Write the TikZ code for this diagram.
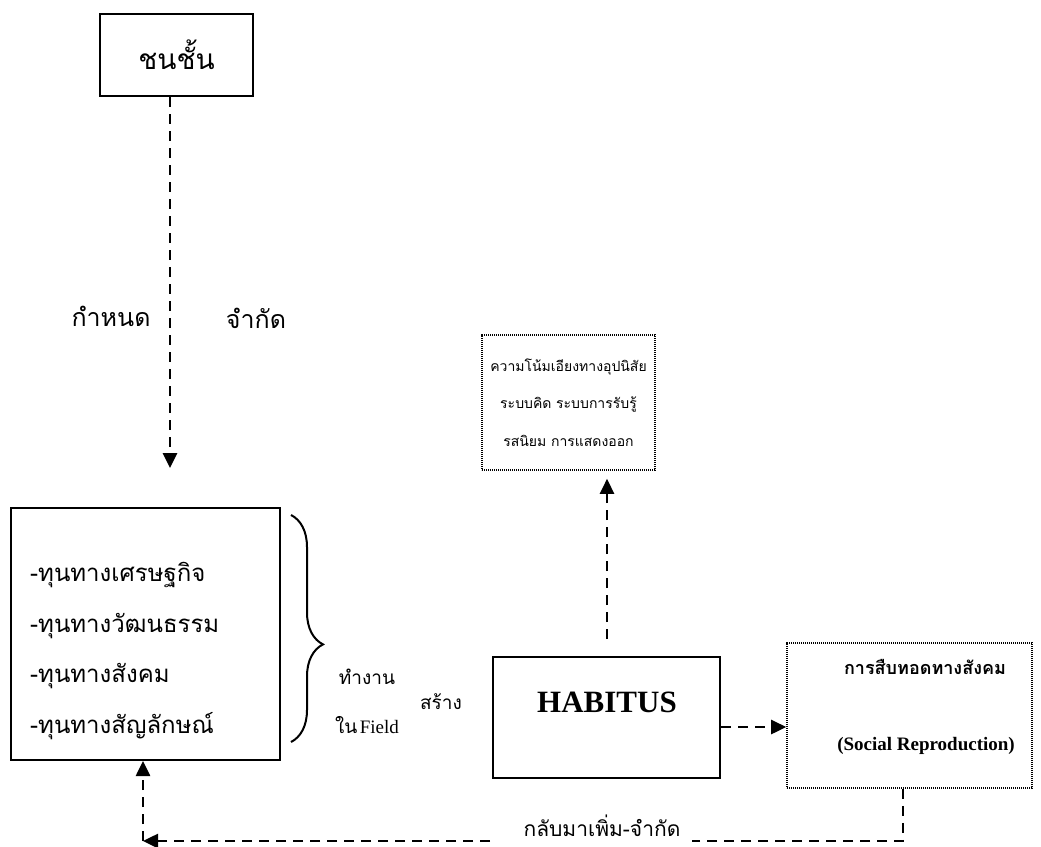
\documentclass[tikz,border=0pt]{standalone}
\usepackage{fontspec}
\setmainfont{Liberation Serif}
\newfontfamily\thai[Script=Thai]{Loma}
\usetikzlibrary{arrows.meta,decorations.pathreplacing}

\begin{document}
\begin{tikzpicture}[x=1pt,y=-1pt,
  solidbox/.style={draw,line width=2pt,inner sep=0pt},
  dotbox/.style={draw,line width=1.6pt,dash pattern=on 1.2pt off 0.8pt,inner sep=0pt},
  dconn/.style={line width=2.6pt,dash pattern=on 10pt off 7pt},
  tipend/.style={-{Triangle[length=15pt,width=14pt]}},
  th/.style={font=\thai\fontsize{#1}{#1}\selectfont,inner sep=0pt},
]
\useasboundingbox (0,0) rectangle (1041,846);

% social class box and its arrow down
\node[solidbox,minimum width=153pt,minimum height=82pt,th=28] (cls) at (176.5,55) {ชนชั้น};
\coordinate (clsTip) at (170,468);
\draw[dconn,tipend] (cls.south -| clsTip) -- (clsTip);
\node[th=25] (lblDet) at (111,316) {กำหนด};
\node[th=25] (lblLim) at (256,318) {จำกัด};

% capitals
\node[solidbox,minimum width=269pt,minimum height=252pt] (cap) at (145.5,634) {};
\node[anchor=west,align=left,inner sep=0pt,font=\thai\fontsize{24}{50.5}\selectfont] (capText) at (30,651)
  {-ทุนทางเศรษฐกิจ\\-ทุนทางวัฒนธรรม\\-ทุนทางสังคม\\-ทุนทางสัญลักษณ์};
\draw[line width=2pt,decorate,decoration={brace,amplitude=32pt,aspect=0.57}]
  ([xshift=10pt,yshift=-8pt]cap.north east) -- ([xshift=10pt,yshift=19pt]cap.south east);
\node[th=19] (lblWork) at (367,677) {ทำงาน};
\node[inner sep=0pt] (lblField) at (367,725) {{\thai\fontsize{19}{19}\selectfont ใน} {\fontsize{19}{19}\selectfont Field}};
\node[th=19] (lblMake) at (441,702) {สร้าง};

% dispositions
\node[dotbox,minimum width=173pt,minimum height=135pt,align=center,
      font=\thai\fontsize{14}{37.5}\selectfont] (disp) at (568.5,402.5)
  {ความโน้มเอียงทางอุปนิสัย\\ระบบคิด ระบบการรับรู้\\รสนิยม การแสดงออก};

% habitus
\node[solidbox,minimum width=227pt,minimum height=121pt] (hab) at (606.5,717.5) {};
\node[inner sep=0pt,font=\bfseries\fontsize{31}{31}\selectfont] (habText) at (607,702) {HABITUS};
\draw[dconn,tipend,shorten <=17pt,shorten >=8pt] (hab.north -| 607,0) -- (disp.south -| 607,0);

% social reproduction
\node[dotbox,minimum width=245pt,minimum height=145pt] (soc) at (909.5,715.5) {};
\node[inner sep=0pt,font=\thai\bfseries\fontsize{18}{18}\selectfont] (socTh) at (925,667) {การสืบทอดทางสังคม};
\node[inner sep=0pt,font=\bfseries\fontsize{19}{19}\selectfont] (socEn) at (926,746) {(Social Reproduction)};
\draw[dconn,tipend] (hab.east |- 0,727) -- (soc.west |- 0,727);

% feedback loop back to the capitals
\coordinate (gapR) at (692,841);
\coordinate (gapL) at (490,841);
\coordinate (corner) at (143,841);
\draw[dconn] (soc.south -| 903,0) |- (gapR);
\draw[dconn,tipend] (gapL) -- (corner);
\draw[dconn,tipend] (corner) -- (cap.south -| corner);
\node[th=21] (lblBack) at (602,826) {กลับมาเพิ่ม-จำกัด};
\end{tikzpicture}
\end{document}
